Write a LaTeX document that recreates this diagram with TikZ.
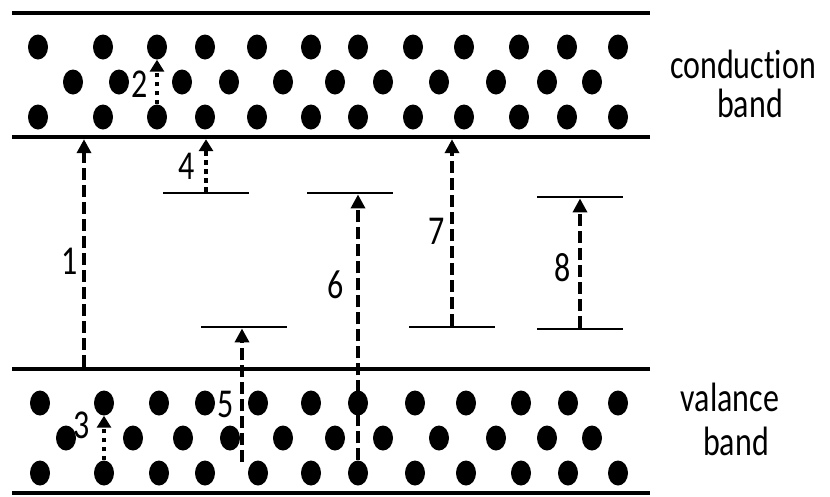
\documentclass[tikz,border=0pt]{standalone}
\usepackage{fontspec}
\usepackage{tikz}
\usetikzlibrary{arrows.meta,shapes.geometric}
\newfontfamily\lblfont[FakeStretch=0.78,RawFeature={-liga;-calt;-dlig}]{Carlito}
\tikzset{
  bandline/.style={rectangle, fill=black, inner sep=0pt, minimum width=638pt,
                   minimum height=4pt},
  trap/.style    ={rectangle, fill=black, inner sep=0pt, minimum width=86pt,
                   minimum height=2.5pt},
  electron/.style={ellipse, fill=black, inner sep=0pt, minimum width=20pt,
                   minimum height=25pt},
  jump/.style    ={-{Triangle[length=14pt,width=14pt]}, line width=4.5pt,
                   dash pattern=on 12pt off 5pt},
  hop/.style     ={-{Triangle[length=12pt,width=14pt]}, line width=4.5pt,
                   dash pattern=on 4.5pt off 4.5pt},
  num/.style     ={font=\lblfont\fontsize{41}{44}\selectfont, inner sep=0pt},
  lbl/.style     ={num, anchor=base}
}

\begin{document}
\begin{tikzpicture}[x=1pt,y=-1pt]
\useasboundingbox (0,0) rectangle (830,496);

% band edges
\foreach \n/\y in {cbTop/13, cbBot/137, vbTop/369, vbBot/493}
  \node[bandline] (\n) at (331,\y) {};

% electrons, conduction band
\foreach \x [count=\i] in {38,103,157,205,257,311,358,413,464,519,567,618}{
  \node[electron] (ct-\i) at (\x,47) {};
  \node[electron] (cb-\i) at (\x,117) {};
}
\foreach \x [count=\i] in {73,119,182,229,283,335,383,439,496,547,592}
  \node[electron] (cm-\i) at (\x,82) {};

% electrons, valance band
\foreach \x [count=\i] in {40,104,159,205,258,311,358,415,466,521,568,618}{
  \node[electron] (vt-\i) at (\x,403) {};
  \node[electron] (vb-\i) at (\x,473) {};
}
\foreach \x [count=\i] in {66,133,183,230,283,335,383,439,496,547,592}
  \node[electron] (vm-\i) at (\x,438) {};

% trap levels
\node[trap] (lv4)  at (206,193) {};
\node[trap] (lv6)  at (350,193) {};
\node[trap] (lv5)  at (244,327) {};
\node[trap] (lv7)  at (452,327) {};
\node[trap] (lv8a) at (580,197) {};
\node[trap] (lv8b) at (580,329) {};

\coordinate (a1) at (84,0);
\coordinate (t5) at (242,462);

% transitions
\draw[jump] (vbTop.north -| a1) -- (cbBot.south -| a1);
\draw[hop]  (cb-3.north) -- (ct-3.south);
\draw[hop]  (vb-2.north) -- (vt-2.south);
\draw[hop]  (lv4.north) -- (cbBot.south -| lv4);
\draw[jump] (t5) -- (t5 |- lv5.south);
\draw[jump] (vb-7.north) -- (vb-7.north |- lv6.south);
\draw[jump] (lv7.north) -- (cbBot.south -| lv7);
\draw[jump] (lv8b.north) -- (lv8a.south);

\node[num] (n1) at (70,261) {1};
\node[num] (n2) at (140,84) {2};
\node[num] (n3) at (82,425) {3};
\node[num] (n4) at (187,166) {4};
\node[num] (n5) at (226,404) {5};
\node[num] (n6) at (336,285) {6};
\node[num] (n7) at (437,231) {7};
\node[num] (n8) at (563,268) {8};

\node[lbl] (cond)  at (743,78)  {conduction};
\node[lbl] (cband) at (750,117) {band};
\node[lbl] (val)   at (730,411) {valance};
\node[lbl] (vband) at (736,455) {band};
\end{tikzpicture}
\end{document}
